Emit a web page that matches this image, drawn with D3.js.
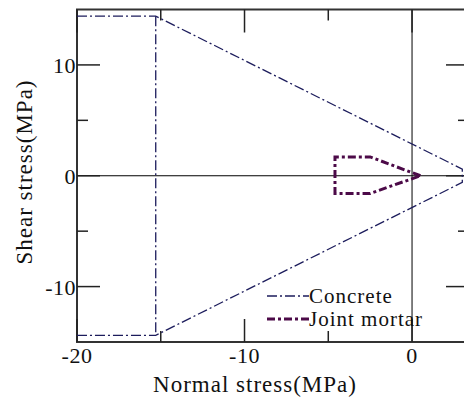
<!DOCTYPE html>
<html>
<head>
<meta charset="utf-8">
<script src="https://cdn.jsdelivr.net/npm/d3@7"></script>
<style>
    body { margin: 0; background: white; }
    text { font-family: "Liberation Serif", "Times New Roman", serif; fill: #111; }
</style>
</head>
<body>
<div id="chartContainer"></div>
<script>
// envelope points, [normal stress, shear stress] in MPa
var concreteOuter = [[-20, 14.4], [-15.3, 14.4], [3.0, 0.6], [3.0, -0.6], [-15.3, -14.4], [-20, -14.4]];
var concreteCut = [[-15.3, 14.4], [-15.3, -14.4]];
var mortar = [[0.5, 0], [-2.5, 1.7], [-4.6, 1.7], [-4.6, -1.6], [-2.5, -1.6], [0.5, 0]];

var xMajor = [-20, -10, 0];
var xMinor = [-15, -5];
var yMajor = [-10, 0, 10];
var yMinor = [-5, 5];

var legendNames = ["Concrete", "Joint mortar"];

var width = 464, height = 400;
var margin = { top: 9.5, right: -5, bottom: 58, left: 77 };

var svg = d3.select("#chartContainer")
    .append("svg")
    .attr("width", width)
    .attr("height", height);

const x = d3.scaleLinear()
    .domain([-20, 3.4])
    .range([margin.left, width - margin.right]);

const y = d3.scaleLinear()
    .domain([-15, 15])
    .range([height - margin.bottom, margin.top]);

let x0 = x.range()[0], x1 = x.range()[1];
let y0 = y.range()[0], y1 = y.range()[1];

// zero lines
svg.append("line")
    .attr("x1", x0).attr("x2", x1)
    .attr("y1", y(0)).attr("y2", y(0))
    .attr("stroke", "#000").attr("stroke-width", 1);
svg.append("line")
    .attr("x1", x(0)).attr("x2", x(0))
    .attr("y1", y1).attr("y2", y0)
    .attr("stroke", "#000").attr("stroke-width", 1);

// frame
svg.append("rect")
    .attr("x", x0).attr("y", y1)
    .attr("width", x1 - x0).attr("height", y0 - y1)
    .attr("fill", "none")
    .attr("stroke", "#333")
    .attr("stroke-width", 2);

// ticks, all pointing inward
let majorLen = 23, minorLen = 11;
let tk = svg.append("g").attr("stroke", "#222").attr("stroke-width", 1.5);

yMajor.concat(yMinor).forEach(function (v) {
    let len = yMajor.indexOf(v) >= 0 ? majorLen : minorLen;
    tk.append("line").attr("x1", x0).attr("x2", x0 + len).attr("y1", y(v)).attr("y2", y(v));
    tk.append("line").attr("x1", x1).attr("x2", x1 - len).attr("y1", y(v)).attr("y2", y(v));
});
xMajor.concat(xMinor).forEach(function (v) {
    let len = xMajor.indexOf(v) >= 0 ? majorLen : minorLen;
    tk.append("line").attr("x1", x(v)).attr("x2", x(v)).attr("y1", y0).attr("y2", y0 - len);
    tk.append("line").attr("x1", x(v)).attr("x2", x(v)).attr("y1", y1).attr("y2", y1 + len);
});

// tick labels
svg.selectAll(".xlab")
    .data(xMajor)
    .enter().append("text")
    .attr("x", function (d) { return x(d); })
    .attr("y", y0 + 21)
    .attr("text-anchor", "middle")
    .attr("font-size", 22)
    .attr("letter-spacing", 0.5)
    .text(function (d) { return d; });

svg.selectAll(".ylab")
    .data(yMajor)
    .enter().append("text")
    .attr("x", x0 - 1)
    .attr("y", function (d) { return y(d) + 8; })
    .attr("text-anchor", "end")
    .attr("font-size", 22)
    .attr("letter-spacing", 0.5)
    .text(function (d) { return d; });

// axis titles
svg.append("text")
    .attr("x", 255)
    .attr("y", 392)
    .attr("text-anchor", "middle")
    .attr("font-size", 23)
    .attr("letter-spacing", 1)
    .text("Normal stress(MPa)");

svg.append("text")
    .attr("transform", "translate(32," + 172 + ") rotate(-90)")
    .attr("text-anchor", "middle")
    .attr("font-size", 23)
    .attr("letter-spacing", 1)
    .text("Shear stress(MPa)");

let line = d3.line()
    .x(function (d) { return x(d[0]) })
    .y(function (d) { return y(d[1]) });

let concreteColor = "#1c1c5c";
let mortarColor = "#4c0a48";
let concreteDash = "10,3,2,3";
let mortarDash = "8,3,3,3";

[concreteOuter, concreteCut].forEach(function (pts) {
    svg.append("path")
        .datum(pts)
        .attr("fill", "none")
        .attr("stroke", concreteColor)
        .attr("stroke-width", 1.3)
        .attr("stroke-dasharray", concreteDash)
        .attr("d", line);
});

svg.append("path")
    .datum(mortar)
    .attr("fill", "none")
    .attr("stroke", mortarColor)
    .attr("stroke-width", 3)
    .attr("stroke-dasharray", mortarDash)
    .attr("d", line);

// legend
let legend = svg.append("g");
let styles = [
    { color: concreteColor, dash: concreteDash, w: 1.3 },
    { color: mortarColor, dash: mortarDash, w: 3 }
];
legendNames.forEach(function (name, i) {
    let ly = 296 + i * 23;
    legend.append("line")
        .attr("x1", 267).attr("x2", 309)
        .attr("y1", ly).attr("y2", ly)
        .attr("stroke", styles[i].color)
        .attr("stroke-width", styles[i].w)
        .attr("stroke-dasharray", styles[i].dash);
    legend.append("text")
        .attr("x", 309)
        .attr("y", ly + 7)
        .attr("font-size", 21)
        .attr("letter-spacing", 1)
        .text(name);
});
</script>
</body>
</html>
